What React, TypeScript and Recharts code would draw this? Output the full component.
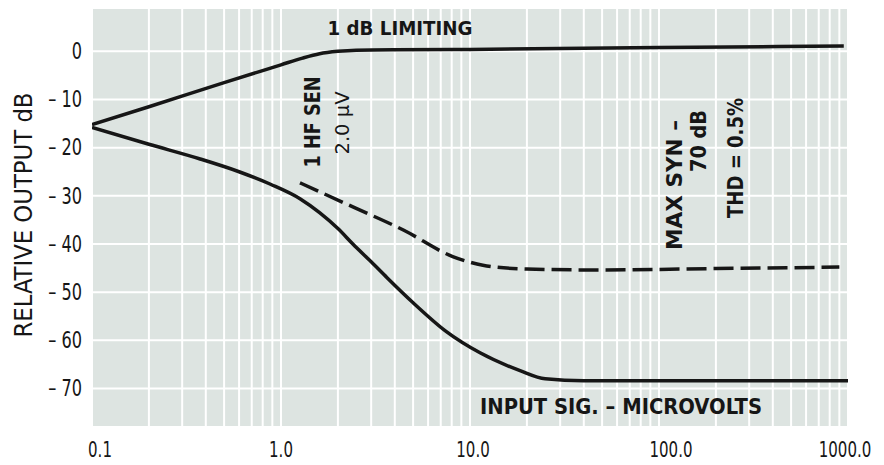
import { LineChart, Line, XAxis, YAxis, CartesianGrid } from "recharts";

// 1 dB limiting curve
const limitX = [0.1, 0.2, 0.5, 1.0, 1.3, 1.6, 2.0, 2.5, 4, 10, 100, 950];
const limitDb = [-15.2, -11.5, -6.5, -2.8, -1.4, -0.5, 0.0, 0.25, 0.35, 0.4, 0.8, 1.1];

// quieting curve (solid, lower)
const quietX = [0.1, 0.2, 0.37, 0.6, 0.88, 1.26, 1.6, 2.0, 2.4, 3.0, 3.64, 5, 7.5, 11.3, 18.4, 25, 40, 100, 1000];
const quietDb = [-15.8, -19.3, -22.3, -25.0, -27.6, -30.6, -33.5, -36.8, -40.0, -43.7, -47.0, -52.2, -58.2, -62.6, -66.3, -68.0, -68.4, -68.4, -68.4];

// distortion curve (dashed)
const thdX = [1.26, 2.4, 4.44, 8.1, 11.7, 20, 47, 200, 900];
const thdDb = [-27.3, -32.3, -37.1, -42.6, -44.4, -45.2, -45.4, -45.1, -44.8];

const decades = [0.1, 1, 10, 100, 1000];
const decadeLabels = ["0.1", "1.0", "10.0", "100.0", "1000.0"];
const xGrid = [0.1, 0.2, 0.3, 0.4, 0.5, 0.6, 0.7, 0.8, 0.9, 1, 2, 3, 4, 5, 6, 7, 8, 9, 10, 20, 30, 40, 50, 60, 70, 80, 90, 100, 200, 300, 400, 500, 600, 700, 800, 900, 1000];
const yTicks = [-70, -60, -50, -40, -30, -20, -10, 0];

const toRows = (xs: number[], ys: number[]) => xs.map((x, i) => ({ x, y: ys[i] }));

const font = "'DejaVu Sans Condensed', 'DejaVu Sans', sans-serif";
const ink = "#161616";

// labels in the scan sit a little off their decade lines
const labelShift = [8, 0, 3, 12, -3];

const XTick = (props: any) => {
  const { x, y, payload } = props;
  const i = decades.findIndex((d) => Math.abs(d - payload.value) < 1e-9);
  if (i < 0) return <g />;
  return (
    <text transform={`translate(${x + labelShift[i]},${y + 15}) scale(0.76,1)`} textAnchor="middle" dominantBaseline="central" fontFamily={font} fontSize={22} fill={ink}>
      {decadeLabels[i]}
    </text>
  );
};

const YTick = (props: any) => {
  const { x, y, payload } = props;
  const v = payload.value;
  return (
    <text transform={`translate(${x - 2},${y}) scale(0.78,1)`} textAnchor="end" dominantBaseline="central" fontFamily={font} fontSize={23} fill={ink}>
      {v < 0 ? `\u2013 ${-v}` : `${v}`}
    </text>
  );
};

// rotated note, reads bottom to top
const Note = ({ x, y, len, size, bold, children }: any) => (
  <text
    x={x}
    y={y}
    transform={`rotate(-90 ${x} ${y})`}
    textAnchor="middle"
    dominantBaseline="central"
    fontSize={size}
    fontWeight={bold ? "bold" : "normal"}
    textLength={len}
    lengthAdjust="spacingAndGlyphs"
  >
    {children}
  </text>
);

const App = () => {
  return (
    <div style={{ position: "absolute", left: 0, top: 0, width: 884, height: 465, background: "#fff" }}>
      <LineChart width={884} height={465} margin={{ top: 8, right: 36, bottom: 0, left: 0 }}>
        <CartesianGrid fill="#dde4e1" fillOpacity={1} stroke="#ffffff" strokeWidth={2} />
        <XAxis
          dataKey="x"
          type="number"
          scale="log"
          domain={[0.1, 1000]}
          ticks={xGrid}
          interval={0}
          allowDataOverflow
          axisLine={false}
          tickLine={false}
          height={38}
          tick={XTick}
        />
        <YAxis
          type="number"
          domain={[-78, 9]}
          ticks={yTicks}
          interval={0}
          allowDataOverflow
          axisLine={false}
          tickLine={false}
          width={92}
          tick={YTick}
        />
        <Line data={toRows(limitX, limitDb)} dataKey="y" type="monotone" stroke={ink} strokeWidth={3.5} dot={false} isAnimationActive={false} />
        <Line data={toRows(quietX, quietDb)} dataKey="y" type="monotone" stroke={ink} strokeWidth={3.5} dot={false} isAnimationActive={false} />
        <Line data={toRows(thdX, thdDb)} dataKey="y" type="monotone" stroke={ink} strokeWidth={3.5} strokeDasharray="20 7" dot={false} isAnimationActive={false} />
      </LineChart>
      <svg width={884} height={465} style={{ position: "absolute", left: 0, top: 0, pointerEvents: "none" }} fontFamily={font} fill={ink}>
        <Note x={24} y={215} len={245} size={24}>
          RELATIVE OUTPUT dB
        </Note>
        <text x={400} y={28} textAnchor="middle" dominantBaseline="central" fontSize={20} fontWeight="bold" textLength={145} lengthAdjust="spacingAndGlyphs">
          1 dB LIMITING
        </text>
        <Note x={313} y={122} len={91} size={21} bold>
          1 HF SEN
        </Note>
        <Note x={342} y={123} len={63} size={20}>
          2.0 μV
        </Note>
        <Note x={675} y={185} len={130} size={21} bold>
          MAX SYN –
        </Note>
        <Note x={699} y={141} len={62} size={21} bold>
          70 dB
        </Note>
        <Note x={736} y={158} len={120} size={21} bold>
          THD = 0.5%
        </Note>
        <text x={621} y={406} textAnchor="middle" dominantBaseline="central" fontSize={22} fontWeight="bold" textLength={282} lengthAdjust="spacingAndGlyphs">
          INPUT SIG. – MICROVOLTS
        </text>
      </svg>
    </div>
  );
};

export default App;
